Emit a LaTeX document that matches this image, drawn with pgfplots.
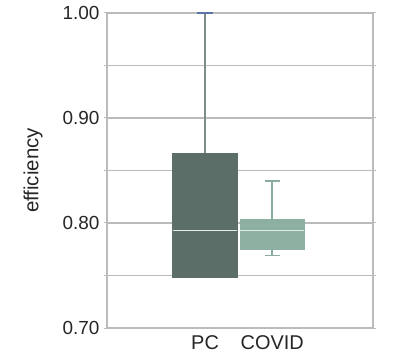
\documentclass[border=0pt]{standalone}
\usepackage{pgfplots}
\pgfplotsset{compat=1.18}
\usepgfplotslibrary{statistics}
\usepackage{fontspec}
\setmainfont{Liberation Sans}
\definecolor{pcfill}{HTML}{5B6E68}
\definecolor{pcwhisk}{HTML}{7F8C88}
\definecolor{capblue}{HTML}{5A76A8}
\definecolor{cvfill}{HTML}{8DB0A3}
\definecolor{cvwhisk}{HTML}{8AAB9F}
\definecolor{gridc}{HTML}{BBBBBB}
\definecolor{medc}{HTML}{E2EBE7}
\begin{document}
\begin{tikzpicture}
\path[use as bounding box] (-107bp,-30bp) rectangle (289bp,328bp);
\begin{axis}[
  at={(0,0)}, anchor=south west,
  scale only axis, width=266bp, height=315bp,
  xmin=-0.46, xmax=3.5, ymin=0.70, ymax=1.00,
  xtick={1,2}, xticklabels={PC,COVID},
  ytick={0.70,0.80,0.90,1.00},
  minor ytick={0.75,0.85,0.95},
  ymajorgrids, yminorgrids,
  major grid style={gridc, line width=1.6bp},
  minor grid style={gridc, line width=1.6bp},
  axis line style={gridc, line width=1.6bp},
  major x tick style={draw=none},
  ytick style={gridc, line width=1bp},
  minor y tick style={gridc, line width=1bp},
  tick align=outside,
  major tick length=3bp, minor tick length=3bp,
  /pgf/number format/assume math mode=true,
  yticklabel style={/pgf/number format/fixed, /pgf/number format/fixed zerofill, /pgf/number format/precision=2, font=\fontsize{19}{21}\selectfont, text=black!85, xshift=-1bp},
  xticklabel style={font=\fontsize{20}{22}\selectfont, text=black!85, yshift=-1bp},
  ylabel={efficiency},
  ylabel style={at={(axis description cs:-0.278,0.5)}, anchor=center, font=\fontsize{20.5}{22}\selectfont, text=black!85},
  boxplot/draw direction=y,
  boxplot/box extend=0.955,
  boxplot/whisker extend=0.23,
  clip=false,
]
\addplot+[boxplot prepared={draw position=1, lower whisker=0.748, lower quartile=0.748, median=0.793, upper quartile=0.866, upper whisker=1.00},
  fill=pcfill, draw=pcfill, line width=1.2bp, mark=none,
  boxplot/every whisker/.style={draw=pcwhisk, line width=1.2bp},
  boxplot/every box/.style={draw=pcfill, fill=pcfill},
  boxplot/every median/.style={draw=medc, line width=1bp}]
  coordinates {};
\addplot[capblue, line width=1.2bp, mark=none] coordinates {(0.875,1.00) (1.125,1.00)};
\addplot+[boxplot prepared={draw position=2, lower whisker=0.769, lower quartile=0.775, median=0.793, upper quartile=0.803, upper whisker=0.840},
  fill=cvfill, draw=cvfill, line width=1.2bp, mark=none,
  boxplot/every whisker/.style={draw=cvwhisk, line width=1.5bp},
  boxplot/every box/.style={draw=cvfill, fill=cvfill},
  boxplot/every median/.style={draw=medc, line width=1bp}]
  coordinates {};
\end{axis}
\end{tikzpicture}
\end{document}
